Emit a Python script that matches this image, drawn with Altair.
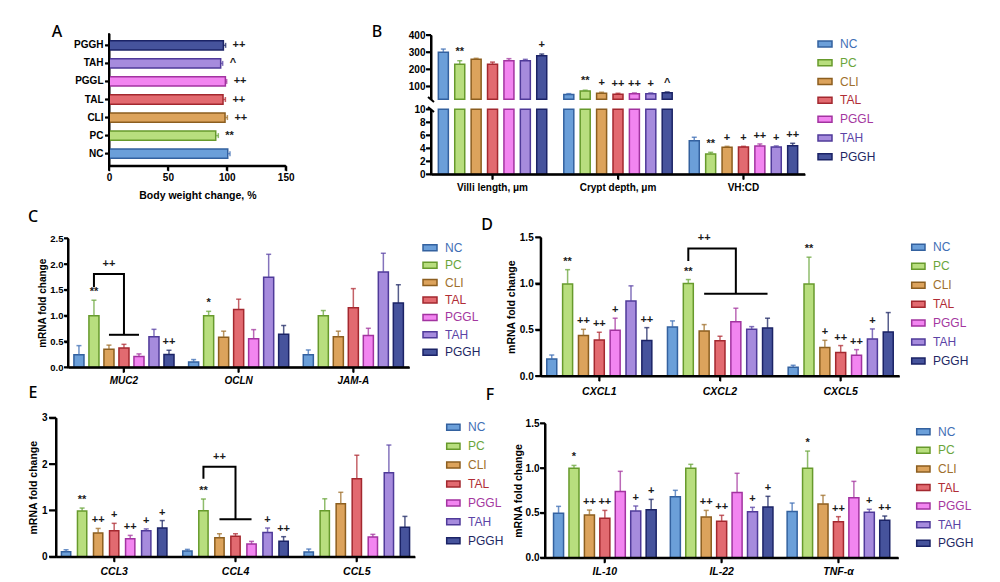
import altair as alt
import pandas as pd

# ---------------- data ----------------
GROUPS = ["NC", "PC", "CLI", "TAL", "PGGL", "TAH", "PGGH"]
FILLS = ["#6b9fd9", "#b8de7e", "#dca35c", "#e26a70", "#f285f0", "#a68bdd", "#46539c"]
STROKES = ["#33619f", "#679a2c", "#8c5e1f", "#a3282f", "#a233a0", "#4f3a99", "#1b2366"]
DARKS = ["#3f6fb5", "#6aa53b", "#a0702c", "#b02d36", "#a4379f", "#5b44a6", "#1e2764"]

# Panel A: body weight change (%)
bw_mean = [100.8, 90.6, 98.5, 96.8, 98.8, 94.8, 97.1]
bw_sd = [1.9, 2.2, 2.0, 2.0, 1.1, 1.7, 1.9]
bw_sig = ["", "**", "++", "++", "++", "^", "++"]
bw_ticks = [0, 50, 100, 150]

# Panel B: morphology
b_cats = ["Villi length, μm", "Crypt depth, μm", "VH:CD"]
villi_mean = [299, 229, 258, 230, 250, 250, 279]
villi_sd = [19, 21, 6, 12, 12, 8, 10]
villi_sig = ["", "**", "", "", "", "", "+"]
crypt_mean = [53, 73, 61, 55, 57, 57, 63]
crypt_sd = [5, 5, 5, 5, 5, 5, 5]
crypt_sig = ["", "**", "+", "++", "++", "+", "^"]
vhcd_mean = [5.18, 3.13, 4.15, 4.2, 4.36, 4.2, 4.41]
vhcd_sd = [0.52, 0.25, 0.15, 0.1, 0.31, 0.16, 0.36]
vhcd_sig = ["", "**", "+", "+", "++", "+", "++"]

# Panel C
c_genes = ["MUC2", "OCLN", "JAM-A"]
c_mean = [[0.245, 1.0, 0.35, 0.375, 0.207, 0.594, 0.25],
          [0.103, 1.0, 0.58, 1.12, 0.555, 1.744, 0.64],
          [0.245, 1.0, 0.594, 1.156, 0.614, 1.848, 1.247]]
c_sd = [[0.175, 0.30, 0.08, 0.07, 0.053, 0.142, 0.08],
        [0.047, 0.085, 0.12, 0.20, 0.175, 0.446, 0.17],
        [0.091, 0.10, 0.106, 0.369, 0.142, 0.362, 0.353]]
c_sig = [["", "**", "", "", "", "", "++"],
         ["", "*", "", "", "", "", ""],
         ["", "", "", "", "", "", ""]]
c_bracket = ["MUC2", "PC", "TAL", 1.55, 1.81, 0.63, "CLI", "PGGL", "CLI", "++"]

# Panel D
d_genes = ["CXCL1", "CXCL2", "CXCL5"]
d_mean = [[0.184, 0.996, 0.437, 0.39, 0.495, 0.81, 0.383],
          [0.53, 1.0, 0.487, 0.38, 0.588, 0.505, 0.52],
          [0.094, 0.996, 0.307, 0.253, 0.224, 0.40, 0.477]]
d_sd = [[0.043, 0.154, 0.068, 0.083, 0.13, 0.165, 0.14],
        [0.066, 0.043, 0.069, 0.05, 0.145, 0.029, 0.105],
        [0.022, 0.289, 0.079, 0.076, 0.061, 0.109, 0.209]]
d_sig = [["", "**", "++", "++", "+", "", "++"],
         ["", "**", "", "", "", "", ""],
         ["", "**", "+", "++", "++", "+", ""]]
d_bracket = ["CXCL2", "PC", "PGGL", 1.245, 1.38, 0.89, "CLI", "PGGH", "CLI", "++"]

# Panel E
e_genes = ["CCL3", "CCL4", "CCL5"]
e_mean = [[0.108, 0.986, 0.51, 0.56, 0.39, 0.56, 0.62],
          [0.122, 0.993, 0.41, 0.44, 0.273, 0.525, 0.331],
          [0.10, 0.993, 1.144, 1.683, 0.424, 1.813, 0.633]]
e_sd = [[0.042, 0.064, 0.10, 0.16, 0.07, 0.04, 0.16],
        [0.036, 0.252, 0.086, 0.056, 0.058, 0.094, 0.101],
        [0.065, 0.257, 0.246, 0.507, 0.058, 0.597, 0.237]]
e_sig = [["", "**", "++", "+", "++", "+", "+"],
         ["", "**", "", "", "", "+", "++"],
         ["", "", "", "", "", "", ""]]
e_bracket = ["CCL4", "PC", "TAL", 1.68, 1.94, 0.81, "CLI", "PGGL", "CLI", "++"]

# Panel F
f_genes = ["IL-10", "IL-22", "TNF-α"]
f_mean = [[0.495, 0.997, 0.476, 0.44, 0.74, 0.52, 0.536],
          [0.681, 0.997, 0.454, 0.406, 0.729, 0.514, 0.566],
          [0.517, 0.997, 0.6, 0.402, 0.67, 0.506, 0.417]]
f_sd = [[0.078, 0.033, 0.056, 0.088, 0.224, 0.057, 0.115],
        [0.071, 0.045, 0.074, 0.067, 0.213, 0.048, 0.119],
        [0.093, 0.193, 0.096, 0.056, 0.182, 0.034, 0.048]]
f_sig = [["", "*", "++", "++", "", "+", "+"],
         ["", "", "++", "++", "", "+", "+"],
         ["", "*", "", "++", "", "+", "++"]]

# ---------------- layout helpers ----------------
W, H, M = 984, 574, 8
FONT = "Liberation Sans"
AXSTYLE = dict(domain=True, ticks=True, domainColor="black", tickColor="black",
               domainWidth=2, tickWidth=1.5)
FRAMES = []   # top-level axis frames drawn as lines through linear frame scales

fill_scale = alt.Scale(domain=GROUPS, range=FILLS)
stroke_scale = alt.Scale(domain=GROUPS, range=STROKES)
color_scale = alt.Scale(domain=GROUPS, range=DARKS)


def fill_enc():
    return alt.Fill("group:N", scale=fill_scale, legend=None)


def stroke_enc():
    return alt.Stroke("group:N", scale=stroke_scale, legend=None)


def color_enc():
    return alt.Color("group:N", scale=color_scale, legend=None)


def add_frame(x0, x1, y0, y1, yticks_px, xticks_px, ytick, xtick, left=True, bottom=True):
    """L-shaped axis frame plus ticks; frame coordinates u,v run 0..1 across the panel."""
    fx = alt.Scale(domain=[0, 1], range=[x0 - M, x1 - M], nice=False, zero=False)
    fy = alt.Scale(domain=[0, 1], range=[y0 - M, y1 - M], nice=False, zero=False)
    rows = []
    if left and bottom:
        rows += [{"s": "f", "o": 0, "u": 0, "v": 1}, {"s": "f", "o": 1, "u": 0, "v": 0},
                 {"s": "f", "o": 2, "u": 1, "v": 0}]
    elif left:
        rows += [{"s": "f", "o": 0, "u": 0, "v": 1}, {"s": "f", "o": 1, "u": 0, "v": 0}]
    du = ytick / (x1 - x0)
    dv = xtick / (y0 - y1)
    for i, p in enumerate(yticks_px):
        v = (y0 - p) / (y0 - y1)
        rows += [{"s": f"y{i}", "o": 0, "u": -du, "v": v}, {"s": f"y{i}", "o": 1, "u": 0, "v": v}]
    for i, p in enumerate(xticks_px):
        u = (p - x0) / (x1 - x0)
        rows += [{"s": f"x{i}", "o": 0, "u": u, "v": 0}, {"s": f"x{i}", "o": 1, "u": u, "v": -dv}]
    FRAMES.append(alt.Chart(pd.DataFrame(rows)).mark_line(
        color="black", strokeWidth=2, strokeJoin="miter", strokeCap="butt").encode(
        x=alt.X("u:Q", scale=fx, axis=None), y=alt.Y("v:Q", scale=fy, axis=None),
        detail="s:N", order=alt.Order("o:Q")))


def band_centers(n, x0, x1, pin, pout):
    step = (x1 - x0) / (n - pin + 2 * pout)
    return [x0 + pout * step + i * step + (1 - pin) * step / 2 for i in range(n)]


def make_df(cats, means, sds, sigs):
    rows = []
    for ci, c in enumerate(cats):
        for gi, g in enumerate(GROUPS):
            m = means[ci][gi]
            s = sds[ci][gi]
            rows.append({"cat": c, "group": g, "mean": m, "hi": m + s, "sig": sigs[ci][gi]})
    return pd.DataFrame(rows)


def bar_panel(df, cats, xr, yr, ydom, yvals, fmt, pin, pout, opad, fs=10, italic=True,
              ytitle="mRNA fold change", tfs=10.5, xaxis=True, ytick=4, ylabpad=2, ytitlepad=2,
              xtick=5, xlabpad=3, xfs=10.5, clip=None, err_filter=None, bracket=None, sig_dy=-8):
    xsc = alt.Scale(domain=cats, range=[xr[0] - M, xr[1] - M], paddingInner=pin, paddingOuter=pout)
    if xaxis:
        xax = alt.Axis(orient="bottom", offset=(yr[0] - M) - H, title=None, labelAngle=0,
                       labelFontSize=xfs, labelFontStyle="italic" if italic else "normal",
                       tickSize=xtick, labelPadding=xlabpad, **AXSTYLE)
    else:
        xax = alt.Axis(orient="bottom", offset=(yr[0] - M) - H, title=None, labels=False,
                       domain=False, ticks=False)
    ysc = alt.Scale(domain=ydom, range=[yr[0] - M, yr[1] - M], nice=False, zero=False)
    yax = alt.Axis(orient="left", offset=-(xr[0] - M), values=yvals, format=fmt,
                   title=ytitle if ytitle else "", labelFontSize=fs, titleFontSize=tfs,
                   tickSize=ytick, labelPadding=ylabpad, titlePadding=ytitlepad,
                   labelOverlap=False, **AXSTYLE)
    x = alt.X("cat:N", scale=xsc, axis=xax, sort=cats)
    xo = alt.XOffset("group:N", sort=GROUPS,
                     scale=alt.Scale(domain=GROUPS, paddingInner=opad, paddingOuter=opad / 2))

    def Y(field):
        return alt.Y(field, scale=ysc, axis=yax)

    src = alt.Chart(df)
    if clip is not None:
        src = src.transform_calculate(bar=f"min(datum.mean, {clip})")
    else:
        src = src.transform_calculate(bar="datum.mean")
    base = src.encode(x=x, xOffset=xo)
    bars = base.mark_bar(strokeWidth=1.5).encode(
        y=Y("bar:Q"), y2=alt.datum(ydom[0]), fill=fill_enc(), stroke=stroke_enc())
    eb = base
    if err_filter:
        eb = eb.transform_filter(err_filter)
    rules = eb.mark_rule(strokeWidth=1.5, opacity=0.75).encode(
        y=Y("mean:Q"), y2="hi:Q", color=color_enc())
    caps = eb.mark_tick(thickness=1.5, size=5, opacity=0.75).encode(
        y=Y("hi:Q"), color=color_enc())
    sig = eb.transform_filter("datum.sig != ''").mark_text(
        dy=sig_dy, fontSize=11, fontWeight="bold", font=FONT, color="#1a1a1a",
        baseline="middle").encode(y=Y("hi:Q"), text="sig:N")
    layers = [bars, rules, caps, sig]

    ypx = [yr[0] - (v - ydom[0]) / (ydom[1] - ydom[0]) * (yr[0] - yr[1]) for v in yvals]
    xpx = band_centers(len(cats), xr[0], xr[1], pin, pout) if xaxis else []
    add_frame(xr[0], xr[1], yr[0], yr[1], ypx, xpx, ytick, xtick, left=True, bottom=xaxis)

    if bracket:
        cat, g_from, g_drop, y0, y1, y2, g_l0, g_l1, g_lab, lab = bracket
        bdf = pd.DataFrame([
            {"cat": cat, "group": g_from, "y": y0, "o": 0, "seg": "a"},
            {"cat": cat, "group": g_from, "y": y1, "o": 1, "seg": "a"},
            {"cat": cat, "group": g_drop, "y": y1, "o": 2, "seg": "a"},
            {"cat": cat, "group": g_drop, "y": y2, "o": 3, "seg": "a"},
            {"cat": cat, "group": g_l0, "y": y2, "o": 0, "seg": "b"},
            {"cat": cat, "group": g_l1, "y": y2, "o": 1, "seg": "b"},
        ])
        bl = alt.Chart(bdf).mark_line(color="black", strokeWidth=2, strokeJoin="miter").encode(
            x=x, xOffset=xo, y=Y("y:Q"), detail="seg:N", order=alt.Order("o:Q"))
        ldf = pd.DataFrame([{"cat": cat, "group": g_lab, "y": y1, "t": lab}])
        lt = alt.Chart(ldf).mark_text(dy=-10, fontSize=11, fontWeight="bold", font=FONT,
                                      color="#1a1a1a", baseline="middle").encode(
            x=x, xOffset=xo, y=Y("y:Q"), text="t:N")
        layers += [bl, lt]
    return alt.layer(*layers)


def legend_layer(x0, x1, xt, y_first, y_last):
    n = len(GROUPS)
    step = (y_last - y_first) / (n - 1)
    ysc = alt.Scale(domain=GROUPS, range=[y_first - step / 2 - M, y_last + step / 2 - M],
                    paddingInner=0, paddingOuter=0)
    yax = alt.Axis(orient="left", labels=False, domain=False, ticks=False, title="")
    df = pd.DataFrame({"group": GROUPS})
    sw = alt.Chart(df).mark_bar(size=6, strokeWidth=1.5).encode(
        y=alt.Y("group:N", scale=ysc, axis=yax, sort=GROUPS),
        x=alt.value(x0 - M), x2=alt.value(x1 - M), fill=fill_enc(), stroke=stroke_enc())
    tx = alt.Chart(df).mark_text(align="left", baseline="middle", fontSize=12, font=FONT).encode(
        y=alt.Y("group:N", scale=ysc, axis=yax, sort=GROUPS),
        x=alt.value(xt - M), text="group:N", color=color_enc())
    return alt.layer(sw, tx)


def letter(t, x, y):
    return alt.Chart(pd.DataFrame({"t": [t]})).mark_text(
        fontSize=16, font="Noto Sans", fontWeight=500, color="black",
        align="center", baseline="middle").encode(
        x=alt.value(x - M), y=alt.value(y - M), text="t:N")


# ---------------- Panel A ----------------
dfA = pd.DataFrame({"group": GROUPS, "mean": bw_mean,
                    "hi": [m + s for m, s in zip(bw_mean, bw_sd)], "sig": bw_sig})
A_y0, A_y1, A_x0, A_x1 = 165.7, 33.3, 109, 285.7
A_pin, A_pout = 0.485, 0.41
yA = alt.Scale(domain=GROUPS, range=[A_y0 - M, A_y1 - M], paddingInner=A_pin, paddingOuter=A_pout)
xA = alt.Scale(domain=[0, 150], range=[A_x0 - M, A_x1 - M], nice=False, zero=True)
axA_y = alt.Axis(orient="left", offset=-(A_x0 - M), title="", tickSize=4, labelPadding=2,
                 labelFontSize=10, **AXSTYLE)
axA_x = alt.Axis(orient="bottom", offset=(A_y0 - M) - H, values=bw_ticks,
                 title="Body weight change, %", tickSize=5, labelPadding=2, titlePadding=8,
                 labelFontSize=10, titleFontSize=10.5, labelFlush=False, **AXSTYLE)


def XA(field):
    return alt.X(field, scale=xA, axis=axA_x)


baseA = alt.Chart(dfA).encode(y=alt.Y("group:N", scale=yA, axis=axA_y, sort=GROUPS))
barsA = baseA.mark_bar(strokeWidth=1.5).encode(
    x=XA("mean:Q"), x2=alt.datum(0), fill=fill_enc(), stroke=stroke_enc())
rulesA = baseA.mark_rule(strokeWidth=1.5, opacity=0.75).encode(
    x=XA("mean:Q"), x2="hi:Q", color=color_enc())
capsA = baseA.mark_tick(thickness=1.5, size=5, opacity=0.75).encode(
    x=XA("hi:Q"), color=color_enc())
sigA = baseA.transform_filter("datum.sig != ''").mark_text(
    align="left", dx=7, baseline="middle", fontSize=11, fontWeight="bold", font=FONT,
    color="#1a1a1a").encode(x=XA("hi:Q"), text="sig:N")
panelA = alt.layer(barsA, rulesA, capsA, sigA)
A_rows_px = list(reversed(band_centers(len(GROUPS), A_y1, A_y0, A_pin, A_pout)))
A_xt_px = [A_x0 + t / 150 * (A_x1 - A_x0) for t in bw_ticks]
add_frame(A_x0, A_x1, A_y0, A_y1, A_rows_px, A_xt_px, 4, 5)

# ---------------- Panel B ----------------
dfB_up = make_df(b_cats[:2], [villi_mean, crypt_mean], [villi_sd, crypt_sd], [villi_sig, crypt_sig])
dfB_lo = make_df(b_cats, [villi_mean, crypt_mean, vhcd_mean], [villi_sd, crypt_sd, vhcd_sd],
                 [villi_sig, crypt_sig, vhcd_sig])
B_x = (431, 805)
panelB_up = bar_panel(dfB_up, b_cats, B_x, (99.3, 35), [25, 400], [100, 200, 300, 400], "d",
                      0.085, 0.033, 0.39, fs=10, ytitle=None, xaxis=False, ytick=5, ylabpad=1,
                      sig_dy=-9)
panelB_lo = bar_panel(dfB_lo, b_cats, B_x, (174.3, 109.3), [0, 10], [0, 2, 4, 6, 8, 10], "d",
                      0.085, 0.033, 0.39, fs=10, italic=False, xfs=10, ytitle=None, ytick=5,
                      ylabpad=1, clip=10, err_filter="datum.cat == 'VH:CD'", xlabpad=3)
ONE = pd.DataFrame({"k": [0]})
breakA = alt.Chart(ONE).mark_rule(strokeWidth=2, color="black").encode(
    x=alt.value(428 - M), x2=alt.value(434 - M), y=alt.value(97 - M), y2=alt.value(102 - M))
breakB = alt.Chart(ONE).mark_rule(strokeWidth=2, color="black").encode(
    x=alt.value(428 - M), x2=alt.value(434 - M), y=alt.value(107 - M), y2=alt.value(112 - M))

# ---------------- Panels C-F ----------------
panelC = bar_panel(make_df(c_genes, c_mean, c_sd, c_sig), c_genes, (68, 409.3), (367.3, 238.3),
                   [0, 2.5], [0, 0.5, 1.0, 1.5, 2.0, 2.5], ".1f", 0.084, 0.03, 0.33,
                   fs=9.5, tfs=10, ytick=4, ylabpad=1, ytitlepad=2, xfs=10, xlabpad=3,
                   bracket=c_bracket)
panelD = bar_panel(make_df(d_genes, d_mean, d_sd, d_sig), d_genes, (540.7, 899.3), (376, 237.3),
                   [0, 1.5], [0, 0.5, 1.0, 1.5], ".1f", 0.081, 0.026, 0.37,
                   fs=10, ytick=5.5, ylabpad=2, ytitlepad=3, xlabpad=5, bracket=d_bracket)
panelE = bar_panel(make_df(e_genes, e_mean, e_sd, e_sig), e_genes, (56, 415), (556.7, 417.7),
                   [0, 3], [0, 1, 2, 3], "d", 0.075, 0.017, 0.42,
                   fs=10, ytick=7, ylabpad=2, ytitlepad=3, xlabpad=5, bracket=e_bracket)
panelF = bar_panel(make_df(f_genes, f_mean, f_sd, f_sig), f_genes, (545, 898.3), (557.7, 423.3),
                   [0, 1.5], [0, 0.5, 1.0, 1.5], ".1f", 0.075, 0.05, 0.35,
                   fs=10, ytick=5, ylabpad=1, ytitlepad=2, xlabpad=4)

legends = [
    legend_layer(818, 832, 840, 44, 156.7),
    legend_layer(423, 437, 445, 247.7, 352.3),
    legend_layer(911.7, 925, 933, 247.3, 361),
    legend_layer(446.7, 460, 468, 427.3, 540.7),
    legend_layer(916.7, 930, 938, 431.7, 543.3),
]
letters = [letter("A", 57, 32), letter("B", 377, 32), letter("C", 33, 217),
           letter("D", 487, 225), letter("E", 33, 393), letter("F", 490, 395)]

chart = alt.layer(
    panelA, panelB_up, panelB_lo, breakA, breakB, panelC, panelD, panelE, panelF,
    *legends, *letters, *FRAMES
).resolve_scale(
    x="independent", y="independent", xOffset="independent"
).properties(
    width=W, height=H, autosize="none", padding=0
).configure_axis(
    domainColor="black", domainWidth=2, tickColor="black", tickWidth=1.5,
    labelColor="black", titleColor="black", labelFont=FONT, titleFont=FONT,
    labelFontWeight="bold", titleFontWeight="bold", grid=False
).configure_view(stroke=None)

chart.save("out.html", embed_options={"renderer": "svg", "actions": False})
